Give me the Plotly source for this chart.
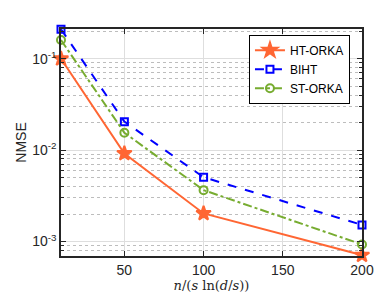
import plotly.graph_objects as go

x_vals = [10, 50, 100, 200]
ht_orka = [0.1, 0.0092, 0.00203, 0.00071]
biht = [0.21, 0.0205, 0.00505, 0.00152]
st_orka = [0.16, 0.0155, 0.00365, 0.00093]

series = [
    ("HT-ORKA", ht_orka, "#FF6633", "solid", "star", 11),
    ("BIHT", biht, "#0000FF", "dash", "square-open", 7),
    ("ST-ORKA", st_orka, "#77AC30", "dashdot", "circle-open", 8),
]

fig = go.Figure()
for name, y, color, dash, sym, size in series:
    fig.add_trace(go.Scatter(
        x=x_vals, y=y, name=name, mode="lines+markers",
        line=dict(color=color, width=2, dash=dash),
        marker=dict(symbol=sym, size=size, color=color,
                    line=dict(color=color, width=2)),
        cliponaxis=False,
    ))

fig.update_layout(
    width=390, height=293,
    margin=dict(l=51, r=36, t=21, b=41),
    paper_bgcolor="white", plot_bgcolor="white",
    font=dict(family="Liberation Sans, Arial", size=14, color="#262626"),
    showlegend=True,
    legend=dict(x=0.96, y=0.975, xanchor="right", yanchor="top",
                bordercolor="black", borderwidth=1, bgcolor="white",
                font=dict(size=12, color="black"),
                tracegroupgap=0, itemwidth=30),
)
fig.update_xaxes(
    range=[10, 200],
    tickvals=[50, 100, 150, 200],
    ticks="inside", ticklen=5, tickcolor="#262626",
    showline=True, linecolor="#262626", linewidth=1.5, mirror="allticks",
    showgrid=True, gridcolor="#DEDEDE", gridwidth=1,
    zeroline=False,
    title=dict(text="<i>n</i>/(<i>s</i> ln(<i>d</i>/<i>s</i>))",
               font=dict(family="DejaVu Serif, Liberation Serif", size=13),
               standoff=2),
)
fig.update_yaxes(
    type="log",
    range=[-3.158, -0.675],
    tickvals=[1e-3, 1e-2, 1e-1],
    ticktext=["10<sup>-3</sup>", "10<sup>-2</sup>", "10<sup>-1</sup>"],
    ticks="inside", ticklen=5, tickcolor="#262626",
    showline=True, linecolor="#262626", linewidth=1.5, mirror="allticks",
    showgrid=True, gridcolor="#DEDEDE", gridwidth=1,
    minor=dict(ticks="inside", ticklen=3, tickcolor="#262626",
               showgrid=True, gridcolor="#BDBDBD", griddash="dot",
               dtick="D1"),
    zeroline=False,
    title=dict(text="NMSE", font=dict(size=14), standoff=2),
)

fig.write_html("out.html")
